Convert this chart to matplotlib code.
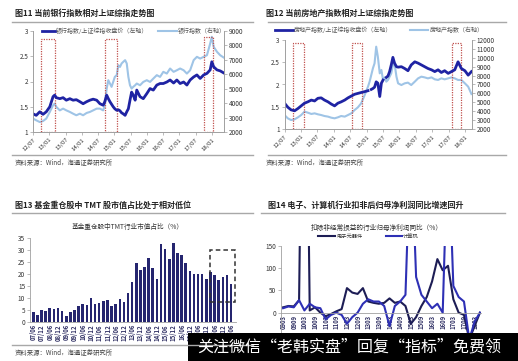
import numpy as np
import matplotlib.pyplot as plt
from matplotlib.patches import Rectangle

plt.rcParams['font.family'] = ['Noto Sans CJK SC', 'DejaVu Sans']

W, H = 518, 361

# ---- 图11: bank index vs SSE ----
p1_month = [0, 1.2, 2.5, 3.7, 4.9, 6.2, 7.4, 8.0, 8.6, 9.9,
            11.1, 12.3, 13.6, 14.8, 16.0, 17.3, 18.5, 19.8, 21.0, 22.2,
            23.5, 24.7, 25.9, 26.5, 27.2, 27.8, 28.4, 29.0, 29.6, 30.2,
            30.9, 31.5, 32.1, 32.7, 33.3, 34.0, 34.6, 35.2, 35.8, 36.4,
            37.0, 37.7, 38.3, 39.5, 40.7, 42.0, 43.2, 44.4, 45.7, 46.9,
            48.1, 49.4, 50.6, 51.9, 53.1, 54.3, 55.6, 56.8, 58.0, 59.3,
            60.5, 61.7, 63.0, 64.2, 65.4, 66.0, 66.7, 67.9, 69.1, 70.4]
p1_ratio = [1.36, 1.33, 1.40, 1.35, 1.40, 1.50, 1.70, 1.73, 1.68, 1.66,
            1.68, 1.63, 1.66, 1.63, 1.64, 1.60, 1.56, 1.60, 1.63, 1.65,
            1.63, 1.56, 1.53, 1.60, 1.73, 1.66, 1.60, 1.55, 1.50, 1.46,
            1.43, 1.44, 1.42, 1.38, 1.36, 1.33, 1.40, 1.46, 1.63, 1.79,
            1.73, 1.63, 1.83, 1.70, 1.66, 1.76, 1.86, 1.83, 1.93, 1.96,
            1.96, 1.99, 2.03, 1.97, 2.03, 1.96, 1.99, 1.93, 2.03, 2.09,
            2.13, 2.06, 2.13, 2.16, 2.23, 2.39, 2.29, 2.23, 2.21, 2.17]
p1_bank = [2930, 2810, 2690, 2760, 2930, 3390, 3850, 3970, 3740, 3500,
           3620, 3500, 3390, 3270, 3160, 3270, 3160, 3320, 3390, 3500,
           3620, 3620, 3500, 3850, 5010, 5590, 5360, 5130, 5470, 5820,
           5940, 6630, 6510, 6750, 6860, 6980, 6750, 5820, 5240, 5010,
           5130, 5240, 5360, 5240, 5470, 5590, 5470, 5700, 5940, 5820,
           6170, 6050, 6400, 6170, 6280, 6400, 6280, 6050, 6280, 6980,
           7210, 7090, 7210, 7320, 8130, 8600, 7900, 7560, 7320, 7160]
p1_boxes = [(3.1, 8.0, 2.84), (26.5, 30.9, 2.84), (63.0, 66.4, 2.88)]

# ---- 图12: real estate index vs SSE ----
p2_month = [0, 1.2, 2.4, 3.7, 4.9, 6.1, 7.3, 8.5, 9.8, 11.0,
            12.2, 13.4, 14.6, 15.9, 17.1, 18.3, 19.5, 20.7, 22.0, 23.2,
            24.4, 25.6, 26.8, 28.0, 29.3, 30.5, 31.1, 31.7, 32.3, 32.9,
            33.5, 34.1, 34.8, 35.4, 36.0, 36.6, 37.2, 37.8, 38.4, 39.0,
            39.6, 40.2, 40.9, 41.5, 42.7, 43.9, 45.1, 46.3, 47.6, 48.8,
            50.0, 51.2, 52.4, 53.7, 54.9, 56.1, 57.3, 58.5, 59.8, 61.0,
            62.2, 63.4, 64.6, 65.9, 67.1, 68.3]
p2_ratio = [1.58, 1.49, 1.43, 1.41, 1.46, 1.52, 1.58, 1.61, 1.65, 1.63,
            1.69, 1.70, 1.65, 1.61, 1.56, 1.52, 1.58, 1.61, 1.65, 1.70,
            1.74, 1.78, 1.80, 1.82, 1.84, 1.86, np.nan, 1.89, 1.91, 1.94,
            2.06, 2.03, 1.73, 2.03, 2.10, np.nan, 2.16, 2.19, 2.29, 2.44,
            2.61, 2.48, 2.40, 2.39, 2.40, 2.36, 2.31, 2.44, 2.51, 2.48,
            2.44, 2.40, 2.36, 2.33, 2.29, 2.33, 2.27, 2.31, 2.25, 2.29,
            2.33, 2.51, 2.36, 2.31, 2.21, 2.29]
p2_estate = [3570, 3200, 3010, 3090, 3310, 3570, 3950, 3840, 3690, 3760,
             3650, 3570, 3460, 3390, 3270, 3200, 3310, 3460, 3390, 3570,
             3760, 4130, 4430, 4880, 5820, 6760, 7320, 8070, 8820, 9380,
             11250, 10130, 8250, 8630, 7510, 7800, 7320, 7510, 7880, 8250,
             9190, 9380, 7880, 7130, 6940, 7130, 7210, 6940, 7320, 7690,
             7880, 7800, 7690, 7800, 7580, 7510, 7690, 7580, 7690, 7800,
             7690, 7510, 7510, 7130, 6760, 5930]
p2_boxes = [(3.0, 7.1, 2.93), (24.8, 28.3, 2.93), (61.3, 64.6, 2.93)]

month_ticks = [0, 6, 12, 18, 24, 30, 36, 42, 48, 54, 60, 66]
month_labels = ['12/07', '13/01', '13/07', '14/01', '14/07', '15/01',
                '15/07', '16/01', '16/07', '17/01', '17/07', '18/01']

# ---- 图13: TMT share of fund holdings ----
tmt_share = [4.0, 3.0, 4.9, 4.5, 6.0, 5.6, 5.9, 4.6, 2.5, 4.2,
             5.0, 6.6, 7.4, 7.3, 10.2, 7.7, 7.8, 8.8, 9.0, 6.6,
             7.4, 9.5, 8.4, 12.0, 16.8, 24.8, 21.6, 22.8, 26.9, 22.4,
             17.8, 32.5, 30.4, 26.5, 32.9, 28.7, 27.9, 24.5, 21.3, 19.9,
             19.9, 20.2, 18.1, 21.0, 19.6, 17.5, 18.9, 19.6, 15.7]
tmt_labels = ['%02d/%s' % (y, m) for y in range(7, 20) for m in ('06', '12')][:25]

# ---- 图14: profit growth ----
p4_labels = ['%02d%s' % (y, m) for y in range(9, 19) for m in ('03', '09')][:19]
elec = [12, 15, 14, 28, 1000, 5, 12, 0, -8, -3,
        3, 8, 55, 45, 42, 55, 25, 22, 20, 22,
        32, 22, 25, 15, -25, -10, 15, 35, 70, 120,
        95, 105, 30, 0, -5, -60, -30, 0]
comp = [10, 14, 12, 28, 5, 20, 12, 10, -15, -5,
        0, -5, -25, -10, 0, 20, 30, 25, 25, 15,
        -30, 15, 25, 40, 400, 80, 40, 25, 10, 20,
        0, 400, 60, 35, 25, -60, -20, 0]

DARK = '#1f23a3'
LIGHT = '#9fc4e6'
GREY = '#555555'
SPINE = '#a0a0a0'


def rect(x0, y0, x1, y1):
    return [x0 / W, 1 - y1 / H, (x1 - x0) / W, (y1 - y0) / H]


def style(ax, size=4.6):
    for s in ax.spines.values():
        s.set_color(SPINE)
        s.set_linewidth(0.6)
    ax.tick_params(colors=SPINE, labelcolor='#333333', labelsize=size,
                   length=2, width=0.5, pad=1.5)
    ax.patch.set_alpha(0)


fig = plt.figure(figsize=(W / 100, H / 100), dpi=100)


def dual_panel(pos, month, ratio, index, ylim2, yticks2, boxes, xmax):
    ax = fig.add_axes(pos)
    ax2 = ax.twinx()
    ax.set_zorder(ax2.get_zorder() + 1)
    ax2.plot(month, index, color=LIGHT, lw=1.5)
    ax.plot(month, ratio, color=DARK, lw=2.0)
    for x0, x1, top in boxes:
        ax.add_patch(Rectangle((x0, 1.0), x1 - x0, top - 1.0, fill=False,
                               ec='#c0504d', lw=0.9, ls=(0, (1, 1))))
    ax.set_xlim(0, xmax)
    ax.set_ylim(1, 3)
    ax.set_yticks([1, 1.5, 2, 2.5, 3])
    ax.set_yticklabels(['1', '1.5', '2', '2.5', '3'])
    ax2.set_ylim(*ylim2)
    ax2.set_yticks(yticks2)
    ax.set_xticks(month_ticks)
    ax.set_xticklabels(month_labels, rotation=45, ha='right',
                       rotation_mode='anchor')
    for a in (ax, ax2):
        style(a)
        a.spines['top'].set_visible(False)
    ax.tick_params(axis='x', labelsize=4.3)
    return ax


dual_panel(rect(33, 31, 224, 132), p1_month, p1_ratio, p1_bank,
           (2000, 9000), range(2000, 9001, 1000), p1_boxes, 70.5)
dual_panel(rect(284.5, 40, 472, 129), p2_month, p2_ratio, p2_estate,
           (2000, 12000), range(2000, 12001, 1000), p2_boxes, 68.5)

# 图13 bars
ax3 = fig.add_axes(rect(30, 238.3, 236, 322))
xb = np.arange(len(tmt_share))
ax3.bar(xb, tmt_share, width=0.62, color='#25256f')
ax3.add_patch(Rectangle((43.0, 8.5), 5.9, 21.5, fill=False, ec='#333333',
                        lw=1.1, ls=(0, (3, 2))))
ax3.set_xlim(-0.8, 49.2)
ax3.set_ylim(0, 35)
ax3.set_yticks(range(0, 36, 5))
ax3.set_xticks(xb[::2])
ax3.set_xticklabels(tmt_labels, rotation=90, fontweight='bold')
style(ax3)
ax3.tick_params(axis='x', length=0, labelsize=4.3, labelcolor='#333366')
for s in ('top', 'right'):
    ax3.spines[s].set_visible(False)

# 图14 lines
ax4 = fig.add_axes(rect(281, 245.7, 481, 335))
for s in ('top', 'right'):
    ax4.spines[s].set_visible(False)
ax4.spines['bottom'].set_position(('data', 0))
xq = np.arange(len(elec))
ax4.plot(xq, elec, color='#1d1d55', lw=1.5)
ax4.plot(xq, comp, color='#2e30b5', lw=1.5)
ax4.set_xlim(-0.4, 37.2)
ax4.set_ylim(-50, 150)
ax4.set_yticks([0, 50, 100, 150])
ax4.set_xticks(xq[::2])
ax4.set_xticklabels(p4_labels, rotation=90, fontweight='bold',
                    va='top', ha='center')
style(ax4)
ax4.tick_params(axis='x', length=0, labelsize=4.3, labelcolor='#333366')

# overlay in pixel coordinates for titles, legends, rules
ov = fig.add_axes([0, 0, 1, 1])
ov.set_xlim(0, W)
ov.set_ylim(H, 0)
ov.axis('off')

for x0, x1, y in [(12, 253, 21.5), (268, 506, 21.5), (12, 253, 155),
                  (268, 506, 155), (12, 253, 213), (261, 505, 213),
                  (12, 253, 345)]:
    ov.plot([x0, x1], [y, y], color='#a8a8a8', lw=1.0)

titles = [(15, 13, '图11 当前银行指数相对上证综指走势图'),
          (266, 13, '图12 当前房地产指数相对上证综指走势图'),
          (15, 205, '图13 基金重仓股中 TMT 股市值占比处于相对低位'),
          (268, 205, '图14 电子、计算机行业扣非后归母净利润同比增速回升')]
for x, y, t in titles:
    ov.text(x, y, t, fontsize=5.8, fontweight='bold', color='#222222',
            va='center', ha='left')

for x, y in [(15, 163), (266, 163), (15, 353)]:
    ov.text(x, y, '资料来源：Wind，海通证券研究所', fontsize=4.6,
            color='#444444', va='center', ha='left')

# legends
ov.plot([42, 55], [31, 31], color=DARK, lw=2.0)
ov.text(56, 31, '银行指数/上证综指收盘价（左轴）', fontsize=4.3, color=GREY,
        va='center')
ov.plot([158, 177], [31, 31], color=LIGHT, lw=1.5)
ov.text(178, 31, '银行指数（右轴）', fontsize=4.3, color=GREY, va='center')

ov.plot([275, 293], [30, 30], color=DARK, lw=2.0)
ov.text(294, 30, '房地产指数/上证综指收盘价（左轴）', fontsize=4.3,
        color=GREY, va='center')
ov.plot([410, 428], [30, 30], color=LIGHT, lw=1.5)
ov.text(430, 30, '房地产指数（右轴）', fontsize=4.3, color=GREY, va='center')

ov.text(128, 227, '基金重仓股中TMT行业市值占比（%）', fontsize=4.8,
        color='#333333', ha='center', va='center')
ov.text(377, 228, '扣除非经常损益的行业归母净利润同比（%）', fontsize=4.8,
        color='#333333', ha='center', va='center')
ov.plot([318, 335], [236, 236], color='#1d1d55', lw=1.5)
ov.text(336, 236, '电子元器件', fontsize=3.8, color='#333333', va='center')
ov.plot([386, 402], [236, 236], color='#2e30b5', lw=1.5)
ov.text(403, 236, '计算机', fontsize=3.8, color='#333333', va='center')

# watermark banner
ov.add_patch(Rectangle((188, 333), W - 188, H - 333, color='black', lw=0))
ov.text(349, 347, '关注微信“老韩实盘”回复“指标”免费领', fontsize=11.5,
        color='white', ha='center', va='center')

fig.savefig('out.png', dpi=100)
